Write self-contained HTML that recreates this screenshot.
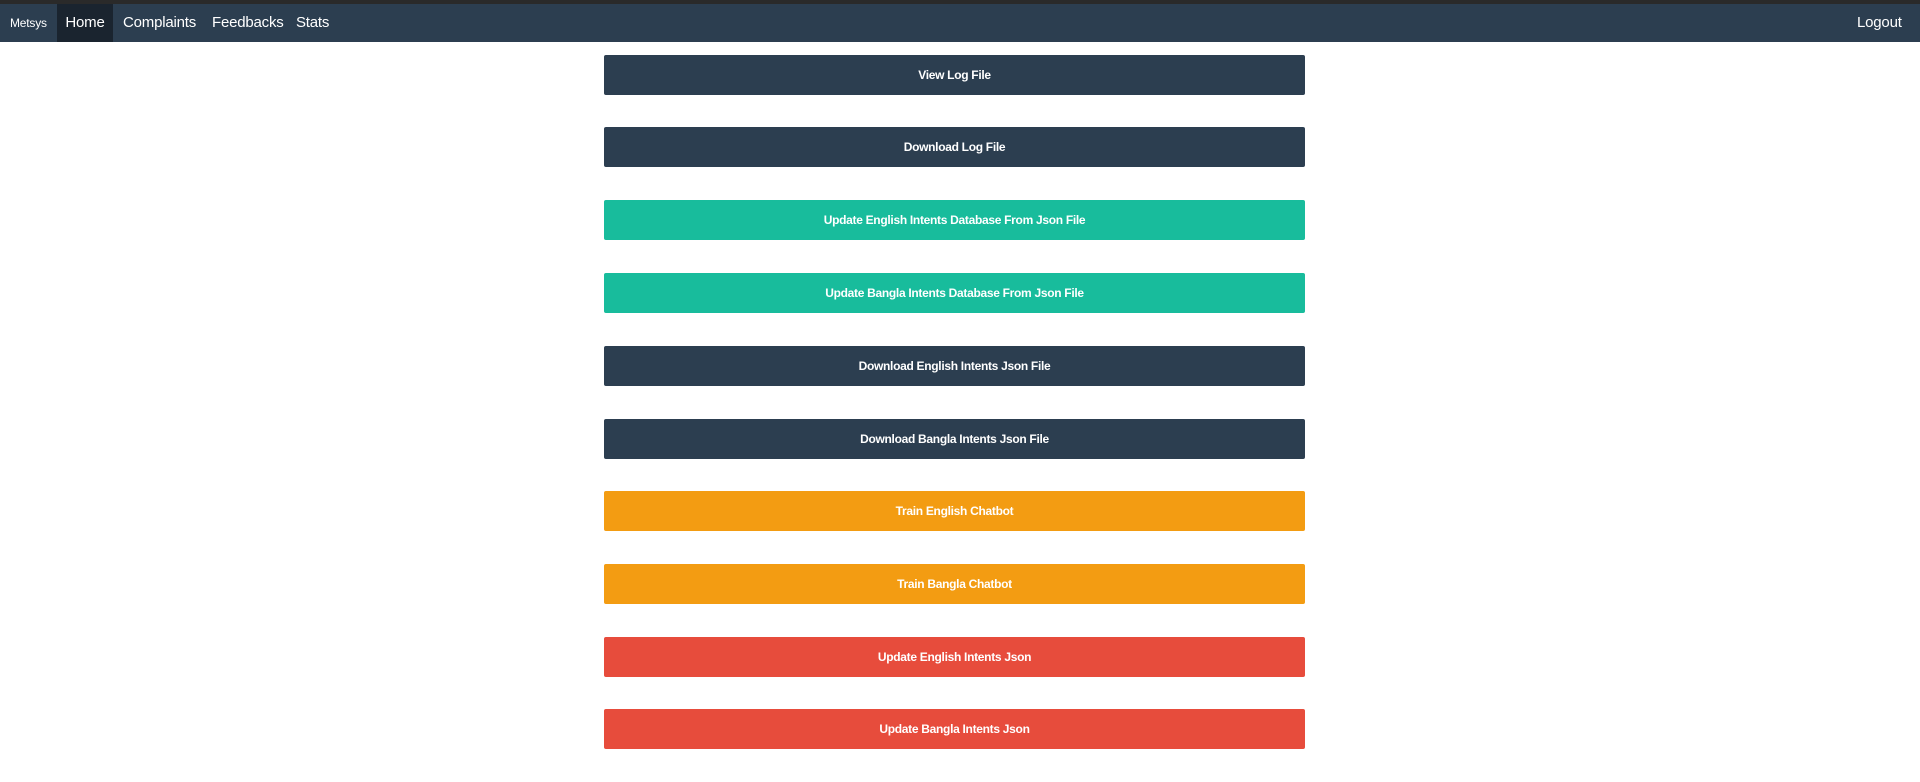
<!DOCTYPE html>
<html><head><meta charset="utf-8"><style>
*{margin:0;padding:0;box-sizing:border-box}
body{width:1920px;height:782px;background:#fff;font-family:"Liberation Sans",sans-serif;position:relative;overflow:hidden}
.top{position:absolute;left:0;top:0;width:1920px;height:4px;background:#2a2a2a}
nav{position:absolute;left:0;top:4px;width:1920px;height:38px;background:#2c3e50;color:#fff}
nav a{position:absolute;top:0;height:38px;line-height:38px;color:#fff;text-decoration:none;font-size:15px;letter-spacing:-0.2px}
.btn{position:absolute;left:604px;width:701px;height:40px;line-height:41px;text-align:center;color:#fff;font-size:12px;font-weight:bold;letter-spacing:-0.3px;border-radius:2px}
.d{background:#2c3e50}.g{background:#18bc9c}.o{background:#f39c12}.r{background:#e74c3c}
</style></head><body>
<div class="top"></div>
<nav>
<a style="left:10px;font-size:12px">Metsys</a>
<a style="left:57px;width:56px;text-align:center;background:#1a242f">Home</a>
<a style="left:123px">Complaints</a>
<a style="left:212px">Feedbacks</a>
<a style="left:296px">Stats</a>
<a style="left:1857px">Logout</a>
</nav>
<div class="btn d" style="top:55px">View Log File</div>
<div class="btn d" style="top:127px">Download Log File</div>
<div class="btn g" style="top:200px">Update English Intents Database From Json File</div>
<div class="btn g" style="top:273px">Update Bangla Intents Database From Json File</div>
<div class="btn d" style="top:346px">Download English Intents Json File</div>
<div class="btn d" style="top:419px">Download Bangla Intents Json File</div>
<div class="btn o" style="top:491px">Train English Chatbot</div>
<div class="btn o" style="top:564px">Train Bangla Chatbot</div>
<div class="btn r" style="top:637px">Update English Intents Json</div>
<div class="btn r" style="top:709px">Update Bangla Intents Json</div>
</body></html>
